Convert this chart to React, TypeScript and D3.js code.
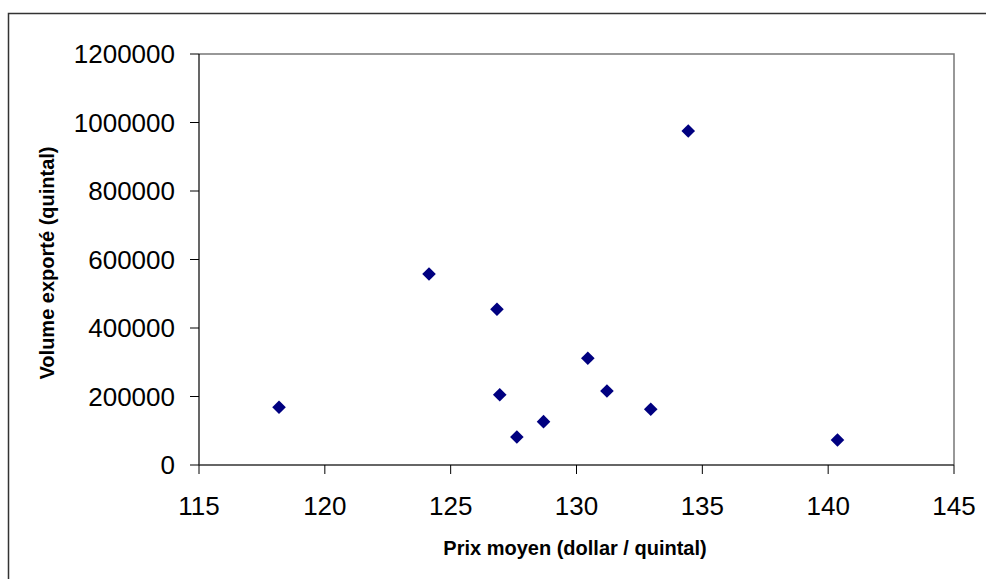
import React from "react";
import * as d3 from "d3";

const prices = [118.18, 124.14, 126.84, 126.95, 127.63, 128.69, 130.45, 131.21, 132.95, 134.44, 140.37];
const volumes = [168500, 557700, 454600, 205300, 81800, 126500, 311500, 216000, 162600, 975000, 73000];
const xTicks = [115, 120, 125, 130, 135, 140, 145];
const yTicks = [0, 200000, 400000, 600000, 800000, 1000000, 1200000];
const xTitle = "Prix moyen (dollar / quintal)";
const yTitle = "Volume exporté (quintal)";

const W = 986;
const H = 579;
const left = 199;
const right = 954;
const top = 54;
const bottom = 465;
const font = "'Liberation Sans', Arial, sans-serif";

export default function App() {
  const x = d3.scaleLinear().domain([115, 145]).range([left, right]);
  const y = d3.scaleLinear().domain([0, 1200000]).range([bottom, top]);
  const diamond = d3.symbol().type(d3.symbolDiamond2).size(118)();
  return (
    <svg width={W} height={H} style={{ position: "absolute", left: 0, top: 0, background: "#fff" }}>
      <rect x={0} y={0} width={W} height={H} fill="#fff" />
      <rect x={8.5} y={13.5} width={W + 10} height={H + 10} fill="none" stroke="#333" strokeWidth={1.5} />
      <path d={`M${left},${top}H${right}V${bottom}`} fill="none" stroke="#777" strokeWidth={1.5} />
      <line x1={left} x2={left} y1={top} y2={bottom} stroke="#000" strokeWidth={1.2} />
      <line x1={left} x2={right} y1={bottom} y2={bottom} stroke="#333" strokeWidth={1.5} />
      {yTicks.map((t) => (
        <g key={"y" + t}>
          <line x1={left - 9} x2={left} y1={y(t)} y2={y(t)} stroke="#000" strokeWidth={1} />
          <text x={175} y={y(t)} dy="0.36em" textAnchor="end" fontFamily={font} fontSize={26} fill="#000">
            {t}
          </text>
        </g>
      ))}
      {xTicks.map((t) => (
        <g key={"x" + t}>
          <line x1={x(t)} x2={x(t)} y1={bottom} y2={bottom + 9} stroke="#000" strokeWidth={1} />
          <text x={x(t)} y={515} textAnchor="middle" fontFamily={font} fontSize={26} fill="#000">
            {t}
          </text>
        </g>
      ))}
      {prices.map((p, i) => (
        <path key={i} d={diamond} transform={`translate(${x(p)},${y(volumes[i])})`} fill="#000080" />
      ))}
      <text x={575} y={555} textAnchor="middle" fontFamily={font} fontSize={20} fontWeight="bold" fill="#000">
        {xTitle}
      </text>
      <text
        transform={`translate(54,263) rotate(-90)`}
        textAnchor="middle"
        fontFamily={font}
        fontSize={20}
        fontWeight="bold"
        fill="#000"
      >
        {yTitle}
      </text>
    </svg>
  );
}
